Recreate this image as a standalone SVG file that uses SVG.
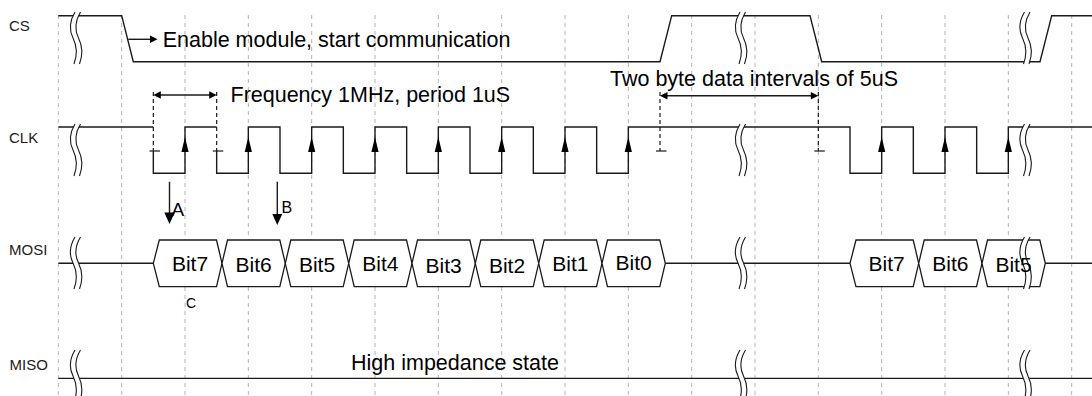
<svg xmlns="http://www.w3.org/2000/svg" xmlns:xlink="http://www.w3.org/1999/xlink" width="1092" height="396" viewBox="0 0 1092 396">
<style>
.grid{stroke:#b4b4b4;stroke-width:1;stroke-dasharray:4 4;fill:none}
.sig{stroke:#1a1a1a;stroke-width:1.4;fill:none}
.dash{stroke:#1a1a1a;stroke-width:1.2;stroke-dasharray:4 3;fill:none}
.tick{stroke:#1a1a1a;stroke-width:1.2}
.ah{fill:#000;stroke:none}
.hex{stroke:#1a1a1a;stroke-width:1.3;fill:#fff}
.brk{stroke:#1a1a1a;stroke-width:1.1;fill:none}
.brkfill{fill:#fff;stroke:none}
text{font-family:"Liberation Sans",Arial,sans-serif;fill:#000}
.lbl{font-size:15px;fill:#222}
.big{font-size:21.5px}
.bit{font-size:21px;text-anchor:middle}
</style>
<defs>
<path id="up" d="M0,137 L-3.6,152 L3.6,152 Z"/>
<g id="brk">
<path class="brkfill" d="M2,0 C-4,10 -4,18 0,26 C4,34 4,44 1,52 L6.5,52 C9.5,44 9.5,34 5.5,26 C1.5,18 1.5,10 7.5,0 Z"/>
<path class="brk" d="M2,0 C-4,10 -4,18 0,26 C4,34 4,44 1,52"/>
<path class="brk" d="M7.5,0 C1.5,10 1.5,18 5.5,26 C9.5,34 9.5,44 6.5,52"/>
</g>
</defs>
<g id="grid">
<line class="grid" x1="58.33" y1="15" x2="58.33" y2="396"/>
<line class="grid" x1="121.67" y1="15" x2="121.67" y2="396"/>
<line class="grid" x1="185" y1="15" x2="185" y2="396"/>
<line class="grid" x1="248.33" y1="15" x2="248.33" y2="396"/>
<line class="grid" x1="311.67" y1="15" x2="311.67" y2="396"/>
<line class="grid" x1="375" y1="15" x2="375" y2="396"/>
<line class="grid" x1="438.33" y1="15" x2="438.33" y2="396"/>
<line class="grid" x1="501.67" y1="15" x2="501.67" y2="396"/>
<line class="grid" x1="565" y1="15" x2="565" y2="396"/>
<line class="grid" x1="628.33" y1="15" x2="628.33" y2="396"/>
<line class="grid" x1="691.67" y1="15" x2="691.67" y2="396"/>
<line class="grid" x1="755" y1="15" x2="755" y2="396"/>
<line class="grid" x1="818.33" y1="15" x2="818.33" y2="396"/>
<line class="grid" x1="881.67" y1="15" x2="881.67" y2="396"/>
<line class="grid" x1="945" y1="15" x2="945" y2="396"/>
<line class="grid" x1="1008.33" y1="15" x2="1008.33" y2="396"/>
<line class="grid" x1="1071.67" y1="15" x2="1071.67" y2="396"/>
</g>
<g id="labels">
<text class="lbl" x="9" y="30.5">CS</text>
<text class="lbl" x="9" y="143.3">CLK</text>
<text class="lbl" x="9" y="255">MOSI</text>
<text class="lbl" x="9.5" y="369.5">MISO</text>
</g>
<g id="connectors">
<!-- CS waveform -->
<path id="cs" class="sig" d="M58.33,15.7 H121.67 L133.3,61.7 H660 L671.7,15.7 H810 L821.7,61.7 H1040 L1051.7,15.7 H1092"/>
<!-- CLK waveform -->
<path id="clk" class="sig" d="M58.33,127 H153.33 M153.33,151 V173.3 H185 V127 H216.67 M216.67,151 V173.3 H248.33 V127 H280 V173.3 H311.67 V127 H343.33 V173.3 H375 V127 H406.67 V173.3 H438.33 V127 H470 V173.3 H501.67 V127 H533.33 V173.3 H565 V127 H596.67 V173.3 H628.33 V127 H850 V173.3 H881.67 V127 H913.33 V173.3 H945 V127 H976.67 V173.3 H1008.33 V127 H1092"/>
<!-- MOSI idle lines -->
<path id="mosi" class="sig" d="M58.33,263.3 H153.33 M665.3,263.3 H850 M1045.3,263.3 H1092"/>
<!-- MISO -->
<path id="miso" class="sig" d="M58.33,378.4 H1092"/>
<!-- rising edge arrows -->
<use href="#up" class="ah" x="185"/>
<use href="#up" class="ah" x="248.33"/>
<use href="#up" class="ah" x="311.67"/>
<use href="#up" class="ah" x="375"/>
<use href="#up" class="ah" x="438.33"/>
<use href="#up" class="ah" x="501.67"/>
<use href="#up" class="ah" x="565"/>
<use href="#up" class="ah" x="628.33"/>
<use href="#up" class="ah" x="881.67"/>
<use href="#up" class="ah" x="945"/>
<use href="#up" class="ah" x="1008.33"/>
<!-- CS annotation arrow -->
<line class="sig" x1="128.3" y1="39.3" x2="151" y2="39.3"/>
<path class="ah" d="M157.5,39.3 L150,35.6 L150,43 Z"/>
<!-- frequency dimension -->
<line class="dash" x1="153.33" y1="92" x2="153.33" y2="151"/>
<line class="dash" x1="216.67" y1="92" x2="216.67" y2="151"/>
<line class="tick" x1="149.5" y1="151" x2="160" y2="151"/>
<line class="tick" x1="212.8" y1="151" x2="223.3" y2="151"/>
<line class="sig" x1="158" y1="95" x2="212" y2="95"/>
<path class="ah" d="M153.33,95 L160.8,91.3 L160.8,98.7 Z"/>
<path class="ah" d="M216.67,95 L209.2,91.3 L209.2,98.7 Z"/>
<!-- two-byte interval dimension -->
<line class="dash" x1="660" y1="92" x2="660" y2="151"/>
<line class="dash" x1="818.33" y1="92" x2="818.33" y2="151"/>
<line class="tick" x1="656" y1="151" x2="666.5" y2="151"/>
<line class="tick" x1="814.3" y1="151" x2="824.8" y2="151"/>
<line class="sig" x1="665" y1="95.7" x2="813" y2="95.7"/>
<path class="ah" d="M660,95.7 L667.5,92 L667.5,99.4 Z"/>
<path class="ah" d="M818.33,95.7 L810.8,92 L810.8,99.4 Z"/>
<!-- A and B arrows -->
<line class="sig" x1="169.5" y1="181.7" x2="169.5" y2="214"/>
<path class="ah" d="M164.3,212.5 L174.7,212.5 L169.5,224 Z"/>
<line class="sig" x1="277.3" y1="181.7" x2="277.3" y2="215"/>
<path class="ah" d="M272.3,214 L282.3,214 L277.3,225 Z"/>
</g>
<g id="mosi-bits">
<g id="b7"><polygon class="hex" points="153.33,263.3 159.3,240 216.5,240 222,263.3 216.5,286.7 159.3,286.7"/><text class="bit" x="190" y="271">Bit7</text></g>
<g id="b6"><polygon class="hex" points="222,263.3 227.5,240 279.8,240 285.3,263.3 279.8,286.7 227.5,286.7"/><text class="bit" x="253.7" y="272">Bit6</text></g>
<g id="b5"><polygon class="hex" points="285.3,263.3 290.8,240 343.2,240 348.7,263.3 343.2,286.7 290.8,286.7"/><text class="bit" x="317" y="272">Bit5</text></g>
<g id="b4"><polygon class="hex" points="348.7,263.3 354.2,240 406.5,240 412,263.3 406.5,286.7 354.2,286.7"/><text class="bit" x="380.3" y="270.5">Bit4</text></g>
<g id="b3"><polygon class="hex" points="412,263.3 417.5,240 469.8,240 475.3,263.3 469.8,286.7 417.5,286.7"/><text class="bit" x="443.7" y="273">Bit3</text></g>
<g id="b2"><polygon class="hex" points="475.3,263.3 480.8,240 533.2,240 538.7,263.3 533.2,286.7 480.8,286.7"/><text class="bit" x="507" y="273">Bit2</text></g>
<g id="b1"><polygon class="hex" points="538.7,263.3 544.2,240 596.5,240 602,263.3 596.5,286.7 544.2,286.7"/><text class="bit" x="570.3" y="271">Bit1</text></g>
<g id="b0"><polygon class="hex" points="602,263.3 607.5,240 659.8,240 665.3,263.3 659.8,286.7 607.5,286.7"/><text class="bit" x="633.7" y="270">Bit0</text></g>
<g id="c7"><polygon class="hex" points="850,263.3 856,240 913.2,240 918.7,263.3 913.2,286.7 856,286.7"/><text class="bit" x="886.7" y="271">Bit7</text></g>
<g id="c6"><polygon class="hex" points="918.7,263.3 924.2,240 976.5,240 982,263.3 976.5,286.7 924.2,286.7"/><text class="bit" x="950.3" y="271">Bit6</text></g>
<g id="c5"><polygon class="hex" points="982,263.3 987.5,240 1039.8,240 1045.3,263.3 1039.8,286.7 987.5,286.7"/></g>
</g>
<g id="breaks">
<use href="#brk" x="73" y="12"/>
<use href="#brk" x="73" y="124"/>
<use href="#brk" x="73" y="237"/>
<use href="#brk" x="73" y="350"/>
<use href="#brk" x="738" y="12"/>
<use href="#brk" x="738" y="124"/>
<use href="#brk" x="738" y="237"/>
<use href="#brk" x="738" y="350"/>
<use href="#brk" x="1022.5" y="12"/>
<use href="#brk" x="1022.5" y="124"/>
<use href="#brk" x="1022.5" y="237"/>
<use href="#brk" x="1022.5" y="350"/>
</g>
<g id="texts">
<text class="bit" x="1013.5" y="272">Bit5</text>
<text class="big" x="162.7" y="46.7">Enable module, start communication</text>
<text class="big" x="230.5" y="101.5">Frequency 1MHz, period 1uS</text>
<text class="big" x="610" y="86">Two byte data intervals of 5uS</text>
<text class="big" x="351" y="370">High impedance state</text>
<text x="171.5" y="216" style="font-size:19px">A</text>
<text x="281.5" y="212.7" style="font-size:16px">B</text>
<text x="186" y="308.3" style="font-size:14px">C</text>
</g>
</svg>
